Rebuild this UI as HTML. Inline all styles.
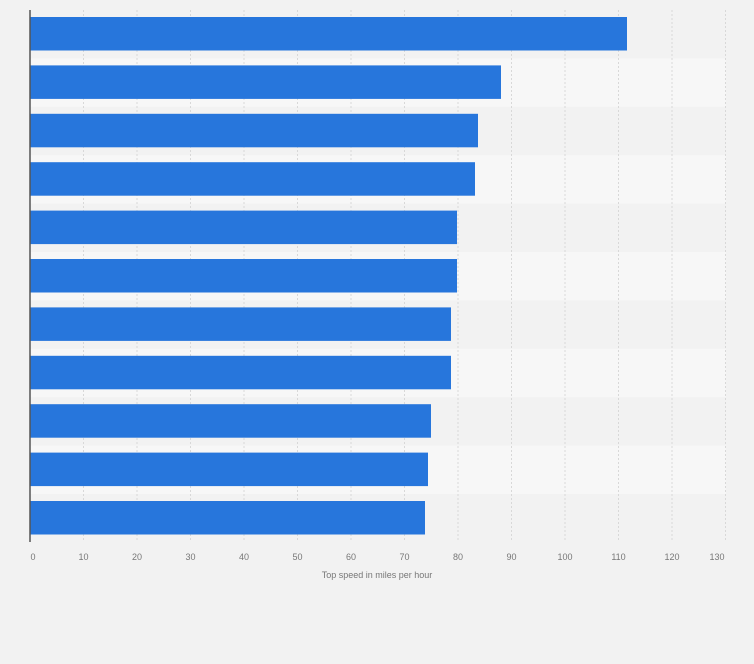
<!DOCTYPE html>
<html><head><style>
body{margin:0;background:#f2f2f2;width:754px;height:659px;overflow:hidden;font-family:"Liberation Sans",sans-serif}
</style></head><body>
<svg width="754" height="659" xmlns="http://www.w3.org/2000/svg">
<rect width="754" height="659" fill="#f2f2f2"/>
<g fill="#f7f7f7">
<rect x="30" y="58.4" width="696" height="48.4"/><rect x="30" y="155.2" width="696" height="48.4"/><rect x="30" y="252" width="696" height="48.4"/><rect x="30" y="348.8" width="696" height="48.4"/><rect x="30" y="445.6" width="696" height="48.4"/>
</g>
<g stroke="#d8d8d8" stroke-dasharray="2,2" stroke-width="1">
<line x1="83.5" y1="10" x2="83.5" y2="542"/><line x1="137" y1="10" x2="137" y2="542"/><line x1="190.5" y1="10" x2="190.5" y2="542"/><line x1="244" y1="10" x2="244" y2="542"/><line x1="297.5" y1="10" x2="297.5" y2="542"/><line x1="351" y1="10" x2="351" y2="542"/><line x1="404.5" y1="10" x2="404.5" y2="542"/><line x1="458" y1="10" x2="458" y2="542"/><line x1="511.5" y1="10" x2="511.5" y2="542"/><line x1="565" y1="10" x2="565" y2="542"/><line x1="618.5" y1="10" x2="618.5" y2="542"/><line x1="672" y1="10" x2="672" y2="542"/><line x1="725.5" y1="10" x2="725.5" y2="542"/>
</g>
<g fill="#2776dc">
<rect x="30" y="17" width="597" height="33.5"/>
<rect x="30" y="65.4" width="471" height="33.5"/>
<rect x="30" y="113.8" width="448" height="33.5"/>
<rect x="30" y="162.2" width="445" height="33.5"/>
<rect x="30" y="210.6" width="427" height="33.5"/>
<rect x="30" y="259" width="427" height="33.5"/>
<rect x="30" y="307.4" width="421" height="33.5"/>
<rect x="30" y="355.8" width="421" height="33.5"/>
<rect x="30" y="404.2" width="401" height="33.5"/>
<rect x="30" y="452.6" width="398" height="33.5"/>
<rect x="30" y="501" width="395" height="33.5"/>
</g>
<line x1="30" y1="10" x2="30" y2="542" stroke="#555" stroke-width="1.5"/>
<g font-size="9" fill="#777" text-anchor="middle">
<text x="33" y="560">0</text><text x="83.5" y="560">10</text><text x="137" y="560">20</text><text x="190.5" y="560">30</text><text x="244" y="560">40</text><text x="297.5" y="560">50</text><text x="351" y="560">60</text><text x="404.5" y="560">70</text><text x="458" y="560">80</text><text x="511.5" y="560">90</text><text x="565" y="560">100</text><text x="618.5" y="560">110</text><text x="672" y="560">120</text><text x="717" y="560">130</text>
<text x="377" y="578">Top speed in miles per hour</text>
</g>
</svg>
</body></html>
